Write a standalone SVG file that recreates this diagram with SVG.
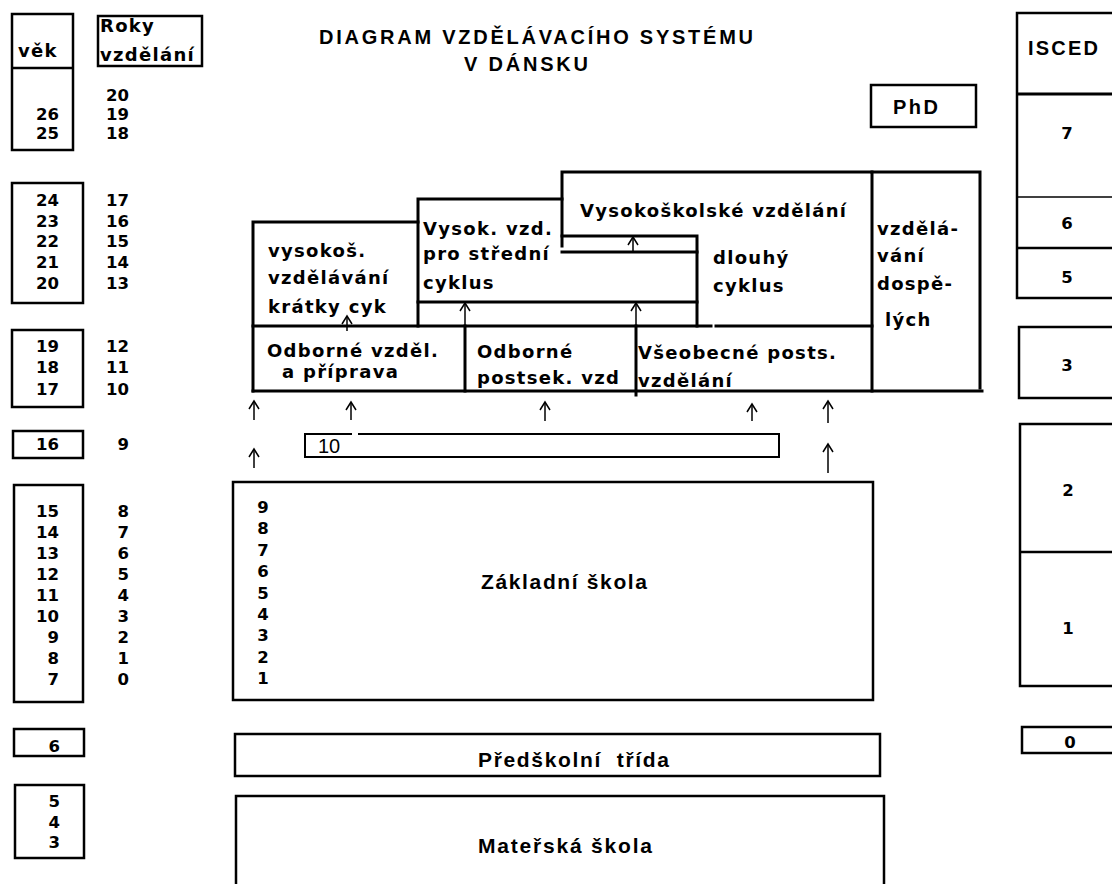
<svg xmlns="http://www.w3.org/2000/svg" width="1112" height="884" viewBox="0 0 1112 884">
<style>
  .ln{fill:none;stroke:#000;stroke-width:3;stroke-linecap:square}
  .bx{fill:none;stroke:#000;stroke-width:2.5}
  .lb{font-family:"DejaVu Sans",sans-serif;font-weight:bold;font-size:18px;letter-spacing:1.3px;fill:#000}
  .num{font-family:"DejaVu Sans",sans-serif;font-weight:bold;font-size:16.5px;fill:#000;text-anchor:end}
  .numc{font-family:"DejaVu Sans",sans-serif;font-weight:bold;font-size:16.5px;fill:#000;text-anchor:middle}
  .hd{font-family:"Liberation Sans",Arial,sans-serif;font-weight:bold;font-size:20px;fill:#000}
  .big{font-family:"Liberation Sans",Arial,sans-serif;font-weight:bold;font-size:21px;fill:#000}
  .arr{fill:none;stroke:#000;stroke-width:1.5;marker-end:url(#ah)}
</style>
<defs>
  <marker id="ah" viewBox="-10 -7 12 14" refX="0" refY="0" markerWidth="12" markerHeight="14" markerUnits="userSpaceOnUse" orient="auto">
    <path d="M-8,-5 L0,0 L-8,5" fill="none" stroke="#000" stroke-width="1.5"/>
  </marker>
</defs>
<rect width="1112" height="884" fill="#fff"/>

<g id="title">
  <text class="hd" x="319" y="44" textLength="434" lengthAdjust="spacing">DIAGRAM VZDĚLÁVACÍHO SYSTÉMU</text>
  <text class="hd" x="464" y="71" textLength="124" lengthAdjust="spacing">V DÁNSKU</text>
</g>

<!-- left: age column -->
<g id="age-header">
  <rect class="bx" x="12" y="14" width="61" height="136"/>
  <line class="bx" x1="12" y1="68" x2="73" y2="68"/>
  <text class="lb" x="18" y="57">věk</text>
  <text class="num" x="59" y="120">26</text>
  <text class="num" x="59" y="139">25</text>
</g>
<g id="years-header">
  <rect class="bx" x="98" y="16" width="104" height="50"/>
  <text class="lb" x="100" y="32">Roky</text>
  <text class="lb" x="100" y="61">vzdělání</text>
  <text class="num" x="129" y="101">20</text>
  <text class="num" x="129" y="120">19</text>
  <text class="num" x="129" y="139">18</text>
</g>
<g id="age-20-24">
  <rect class="bx" x="12" y="183" width="71" height="120"/>
  <text class="num" x="59" y="206">24</text>
  <text class="num" x="59" y="227">23</text>
  <text class="num" x="59" y="247">22</text>
  <text class="num" x="59" y="268">21</text>
  <text class="num" x="59" y="289">20</text>
  <text class="num" x="129" y="206">17</text>
  <text class="num" x="129" y="227">16</text>
  <text class="num" x="129" y="247">15</text>
  <text class="num" x="129" y="268">14</text>
  <text class="num" x="129" y="289">13</text>
</g>
<g id="age-17-19">
  <rect class="bx" x="12" y="330" width="71" height="77"/>
  <text class="num" x="59" y="352">19</text>
  <text class="num" x="59" y="373">18</text>
  <text class="num" x="59" y="395">17</text>
  <text class="num" x="129" y="352">12</text>
  <text class="num" x="129" y="373">11</text>
  <text class="num" x="129" y="395">10</text>
</g>
<g id="age-16">
  <rect class="bx" x="13" y="431" width="70" height="27"/>
  <text class="num" x="59" y="450">16</text>
  <text class="num" x="129" y="450">9</text>
</g>
<g id="age-7-15">
  <rect class="bx" x="14" y="485" width="69" height="217"/>
  <text class="num" x="59" y="517">15</text>
  <text class="num" x="59" y="538">14</text>
  <text class="num" x="59" y="559">13</text>
  <text class="num" x="59" y="580">12</text>
  <text class="num" x="59" y="601">11</text>
  <text class="num" x="59" y="622">10</text>
  <text class="num" x="59" y="643">9</text>
  <text class="num" x="59" y="664">8</text>
  <text class="num" x="59" y="685">7</text>
  <text class="num" x="129" y="517">8</text>
  <text class="num" x="129" y="538">7</text>
  <text class="num" x="129" y="559">6</text>
  <text class="num" x="129" y="580">5</text>
  <text class="num" x="129" y="601">4</text>
  <text class="num" x="129" y="622">3</text>
  <text class="num" x="129" y="643">2</text>
  <text class="num" x="129" y="664">1</text>
  <text class="num" x="129" y="685">0</text>
</g>
<g id="age-6">
  <rect class="bx" x="14" y="729" width="70" height="27"/>
  <text class="num" x="60" y="752">6</text>
</g>
<g id="age-3-5">
  <rect class="bx" x="15" y="785" width="69" height="73"/>
  <text class="num" x="60" y="807">5</text>
  <text class="num" x="60" y="828">4</text>
  <text class="num" x="60" y="848">3</text>
</g>

<!-- PhD -->
<g id="phd">
  <rect class="bx" x="871" y="85" width="105" height="42"/>
  <text class="hd" x="893" y="114" font-size="18" textLength="45" lengthAdjust="spacing">PhD</text>
</g>

<!-- upper tertiary structure -->
<g id="short-cycle">
  <path class="ln" d="M253,391 V222 H418"/>
  <text class="lb" x="268" y="257">vysokoš.</text>
  <text class="lb" x="268" y="284">vzdělávání</text>
  <text class="lb" x="268" y="313">krátky cyk</text>
</g>
<g id="medium-cycle">
  <path class="ln" d="M418,326 V199 H562"/>
  <path class="ln" d="M418,302 H697"/>
  <path class="ln" d="M562,236 H697 V326"/>
  <path class="ln" d="M562,252 H697"/>
  <text class="lb" x="423" y="235">Vysok. vzd.</text>
  <text class="lb" x="423" y="260">pro střední</text>
  <text class="lb" x="423" y="289">cyklus</text>
</g>
<g id="university">
  <path class="ln" d="M562,246 V172 H872 V391"/>
  <text class="lb" x="580" y="217">Vysokoškolské vzdělání</text>
  <text class="lb" x="713" y="264">dlouhý</text>
  <text class="lb" x="713" y="292">cyklus</text>
</g>
<g id="adult-education">
  <path class="ln" d="M872,172 H980 V388"/>
  <text class="lb" x="877" y="235">vzdělá-</text>
  <text class="lb" x="877" y="262">vání</text>
  <text class="lb" x="877" y="290">dospě-</text>
  <text class="lb" x="885" y="326">lých</text>
</g>
<g id="vocational">
  <path class="ln" d="M253,326 H711 M716,326 H872"/>
  <path class="ln" d="M253,391 H982"/>
  <text class="lb" x="267" y="357">Odborné vzděl.</text>
  <text class="lb" x="282" y="378">a příprava</text>
</g>
<g id="vocational-postsec">
  <path class="ln" d="M465,326 V391"/>
  <text class="lb" x="477" y="358">Odborné</text>
  <text class="lb" x="477" y="384">postsek. vzd</text>
</g>
<g id="general-upper-sec">
  <path class="ln" d="M636,326 V395"/>
  <text class="lb" x="638" y="359">Všeobecné posts.</text>
  <text class="lb" x="638" y="387">vzdělání</text>
</g>

<g id="tenth-year">
  <path fill="none" stroke="#000" stroke-width="2" d="M352,434 H305 V457 H779 V434 H358"/>
  <text x="318" y="453" font-family="Liberation Sans, Arial, sans-serif" font-size="20" fill="#000">10</text>
</g>

<g id="basic-school">
  <rect class="bx" x="233" y="482" width="640" height="218"/>
  <text class="numc" x="263" y="513">9</text>
  <text class="numc" x="263" y="534">8</text>
  <text class="numc" x="263" y="556">7</text>
  <text class="numc" x="263" y="577">6</text>
  <text class="numc" x="263" y="599">5</text>
  <text class="numc" x="263" y="620">4</text>
  <text class="numc" x="263" y="641">3</text>
  <text class="numc" x="263" y="663">2</text>
  <text class="numc" x="263" y="684">1</text>
  <text class="big" x="481" y="589" textLength="166" lengthAdjust="spacing">Základní škola</text>
</g>
<g id="preschool-class">
  <rect class="bx" x="235" y="734" width="645" height="42"/>
  <text class="big" x="478" y="767" textLength="191" lengthAdjust="spacing" xml:space="preserve">Předškolní  třída</text>
</g>
<g id="kindergarten">
  <path class="bx" d="M236,890 V796 H884 V890"/>
  <text class="big" x="478" y="853" textLength="174" lengthAdjust="spacing">Mateřská škola</text>
</g>

<!-- ISCED column -->
<g id="isced-5-7">
  <rect class="bx" x="1017" y="13" width="120" height="285"/>
  <line x1="1017" y1="94" x2="1137" y2="94" stroke="#000" stroke-width="3"/>
  <line x1="1017" y1="197" x2="1137" y2="197" stroke="#000" stroke-width="1.5"/>
  <line x1="1017" y1="248" x2="1137" y2="248" stroke="#000" stroke-width="2.5"/>
  <text class="hd" x="1028" y="55" font-size="19" textLength="70" lengthAdjust="spacing">ISCED</text>
  <text class="numc" x="1067" y="139">7</text>
  <text class="numc" x="1067" y="229">6</text>
  <text class="numc" x="1067" y="283">5</text>
</g>
<g id="isced-3">
  <rect class="bx" x="1019" y="327" width="120" height="71"/>
  <text class="numc" x="1067" y="371">3</text>
</g>
<g id="isced-1-2">
  <rect class="bx" x="1020" y="424" width="120" height="262"/>
  <line x1="1020" y1="552" x2="1140" y2="552" stroke="#000" stroke-width="2.5"/>
  <text class="numc" x="1068" y="496">2</text>
  <text class="numc" x="1068" y="634">1</text>
</g>
<g id="isced-0">
  <rect class="bx" x="1022" y="727" width="120" height="26"/>
  <text class="numc" x="1070" y="748">0</text>
</g>

<g id="connectors">
  <path class="arr" d="M347,331 V316"/>
  <path class="arr" d="M465,326 V303"/>
  <path class="arr" d="M636,326 V303"/>
  <path class="arr" d="M633,252 V237"/>
  <path class="arr" d="M254,420 V401"/>
  <path class="arr" d="M351,420 V402"/>
  <path class="arr" d="M545,421 V402"/>
  <path class="arr" d="M752,421 V404"/>
  <path class="arr" d="M828,423 V401"/>
  <path class="arr" d="M254,468 V449"/>
  <path class="arr" d="M828,473 V444"/>
</g>
</svg>
